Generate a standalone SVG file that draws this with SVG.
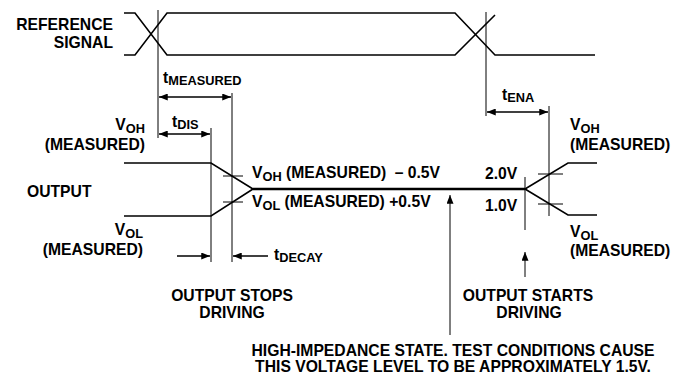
<svg xmlns="http://www.w3.org/2000/svg" width="686" height="377" viewBox="0 0 686 377">
<defs>
<marker id="ah" viewBox="0 0 10 8" refX="10" refY="4" markerWidth="10" markerHeight="7" markerUnits="userSpaceOnUse" orient="auto-start-reverse">
<path d="M0,0 L10,4 L0,8 Z" fill="#000"/>
</marker>
</defs>
<style>
text{font-family:"Liberation Sans",Arial,sans-serif;font-weight:bold;font-size:15.7px;fill:#000}
.sub{font-size:12.8px}
.sig{fill:none;stroke:#000;stroke-width:1.6}
.thick{fill:none;stroke:#000;stroke-width:2.4}
.thin{fill:none;stroke:#000;stroke-width:1}
.dim{fill:none;stroke:#000;stroke-width:1.4}
</style>
<rect width="686" height="377" fill="#fff"/>
<g id="reference-signal">
<path class="sig" d="M124,13 H135 L167,55 H455 L495,15"/>
<path class="sig" d="M124,55 H135 L167,13 H455 L495,55 H595"/>
<text x="113" y="30" text-anchor="end">REFERENCE</text>
<text x="113" y="48" text-anchor="end">SIGNAL</text>
</g>
<g id="output-signal">
<path class="sig" d="M124,163 H211 L253,189"/>
<path class="sig" d="M124,216 H211 L253,189"/>
<path class="thick" d="M253,189 H525"/>
<path class="sig" d="M525,189 L568,163 H597"/>
<path class="sig" d="M525,189 L568,215 H597"/>
<text x="27" y="197">OUTPUT</text>
</g>
<g id="connectors">
<path class="thin" d="M158,10 V138"/>
<path class="thin" d="M232,93 V262"/>
<path class="thin" d="M211,128 V262"/>
<path class="thin" d="M486,12 V116"/>
<path class="thin" d="M549,106 V216"/>
<path class="thin" d="M223,176 H243 M223,202 H243"/>
<path class="thin" d="M538,174 H563 M538,204 H563"/>
<path class="thin" d="M525,177 V230"/>
<path class="thin" d="M525,277 V252" marker-end="url(#ah)"/>
<path class="thin" d="M450,335 V195" marker-end="url(#ah)"/>
<path class="dim" d="M159,97 H231" marker-start="url(#ah)" marker-end="url(#ah)"/>
<path class="dim" d="M159,134 H210" marker-start="url(#ah)" marker-end="url(#ah)"/>
<path class="dim" d="M487,112 H548" marker-start="url(#ah)" marker-end="url(#ah)"/>
<path class="dim" d="M177,256 H210" marker-end="url(#ah)"/>
<path class="dim" d="M268,256 H233" marker-end="url(#ah)"/>
</g>
<g id="labels">
<text x="163" y="83">t<tspan class="sub" dy="2">MEASURED</tspan></text>
<text x="172" y="127">t<tspan class="sub" dy="2">DIS</tspan></text>
<text x="502" y="100">t<tspan class="sub" dy="2">ENA</tspan></text>
<text x="274" y="260">t<tspan class="sub" dy="2">DECAY</tspan></text>
<text x="145" y="130" text-anchor="end">V<tspan class="sub" dy="3">OH</tspan></text>
<text x="145" y="150" text-anchor="end">(MEASURED)</text>
<text x="143" y="235" text-anchor="end">V<tspan class="sub" dy="3">OL</tspan></text>
<text x="143" y="255" text-anchor="end">(MEASURED)</text>
<text x="252" y="178">V<tspan class="sub" dy="3">OH</tspan><tspan dy="-3"> (MEASURED) </tspan><tspan dx="4">– 0.5V</tspan></text>
<text x="252" y="207">V<tspan class="sub" dy="3">OL</tspan><tspan dy="-3"> (MEASURED) +0.5V</tspan></text>
<text x="485" y="179">2.0V</text>
<text x="485" y="211">1.0V</text>
<text x="570" y="130">V<tspan class="sub" dy="3">OH</tspan></text>
<text x="570" y="150">(MEASURED)</text>
<text x="570" y="237">V<tspan class="sub" dy="3">OL</tspan></text>
<text x="570" y="256">(MEASURED)</text>
<text x="232" y="301" text-anchor="middle">OUTPUT STOPS</text>
<text x="232" y="318" text-anchor="middle">DRIVING</text>
<text x="528" y="301" text-anchor="middle">OUTPUT STARTS</text>
<text x="529" y="318" text-anchor="middle">DRIVING</text>
<text x="453" y="356" text-anchor="middle">HIGH-IMPEDANCE STATE. TEST CONDITIONS CAUSE</text>
<text x="453" y="372" text-anchor="middle">THIS VOLTAGE LEVEL TO BE APPROXIMATELY 1.5V.</text>
</g>
</svg>
